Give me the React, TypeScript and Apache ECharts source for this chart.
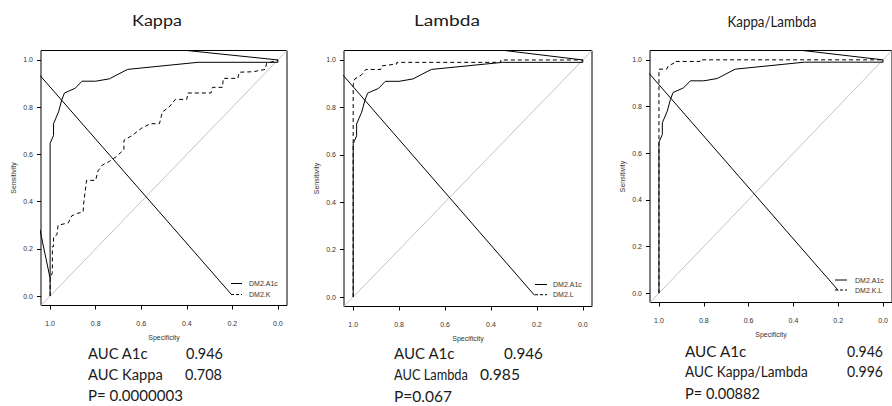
import React, { useEffect, useRef } from 'react';
import * as echarts from 'echarts';

// ---------- data ----------
const PANEL_TITLES = ['Kappa', 'Lambda', 'Kappa/Lambda'];
const LEGEND_A1C = 'DM2.A1c';
const LEGEND_MARKERS = ['DM2.K', 'DM2.L', 'DM2.K.L'];
const AXIS_TICKS = [0, 0.2, 0.4, 0.6, 0.8, 1.0];
const AXIS_MIN = -0.04;
const AXIS_MAX = 1.04;

// [specificity, sensitivity]
const A1C_ROC: number[][] = [
  [1, 0], [1, 0.647], [0.985, 0.68], [0.985, 0.73], [0.963, 0.78], [0.949, 0.83],
  [0.937, 0.86], [0.89, 0.88], [0.86, 0.91], [0.8, 0.91], [0.74, 0.92], [0.66, 0.96],
  [0.35, 0.99], [0, 0.99], [0, 1.0],
];
const KAPPA_ROC: number[][] = [
  [1, 0], [1, 0.07], [0.99, 0.1], [0.99, 0.21], [0.985, 0.21], [0.985, 0.25], [0.97, 0.26],
  [0.965, 0.3], [0.92, 0.31], [0.905, 0.34], [0.88, 0.35], [0.855, 0.357], [0.853, 0.39],
  [0.84, 0.49], [0.8, 0.49], [0.79, 0.53], [0.77, 0.555], [0.74, 0.57], [0.71, 0.59],
  [0.676, 0.62], [0.676, 0.66], [0.64, 0.68], [0.6, 0.71], [0.56, 0.73], [0.52, 0.73],
  [0.507, 0.78], [0.478, 0.8], [0.45, 0.833], [0.4, 0.833], [0.395, 0.86], [0.294, 0.86],
  [0.287, 0.884], [0.243, 0.884], [0.24, 0.922], [0.176, 0.922], [0.17, 0.948], [0.11, 0.95],
  [0.055, 0.96], [0.05, 0.985], [0, 1.0],
];
const LAMBDA_ROC: number[][] = [
  [1, 0], [1, 0.895], [0.993, 0.92], [0.964, 0.937], [0.945, 0.96], [0.88, 0.96],
  [0.876, 0.975], [0.81, 0.983], [0.81, 0.99], [0.357, 0.99], [0.357, 1.0], [0, 1.0],
];
const KL_ROC: number[][] = [
  [1, 0], [1, 0.96], [0.966, 0.96], [0.958, 0.974], [0.933, 0.986], [0.933, 0.993],
  [0.817, 0.993], [0.817, 1.0], [0, 1.0],
];
const MARKER_ROCS = [KAPPA_ROC, LAMBDA_ROC, KL_ROC];

// stray solid strokes present in the original figure
const STRAY_DIAGONAL: number[][][] = [
  [[1.045, 0.935], [0.205, 0.008]],
  [[1.045, 0.937], [0.21, 0.007]],
  [[1.045, 0.943], [0.2, 0.012]],
];
const STRAY_TOP: number[][][] = [
  [[0.45, 1.045], [0, 1.0]],
  [[0.4, 1.047], [0, 1.0]],
  [[0.43, 1.048], [0, 1.0]],
];
const STRAY_LEFT: number[][][] = [
  [[1.045, 0.283], [1.0, 0.075]],
  [],
  [],
];
const CHANCE_LINE: number[][] = [[1.1, -0.1], [-0.1, 1.1]];

const AUC_LABELS = [
  ['AUC A1c', 'AUC Kappa', 'P= 0.0000003'],
  ['AUC A1c', 'AUC Lambda', 'P=0.067'],
  ['AUC A1c', 'AUC Kappa/Lambda', 'P= 0.00882'],
];
const AUC_VALUES = [
  ['0.946', '0.708'],
  ['0.946', '0.985'],
  ['0.946', '0.996'],
];

// ---------- layout ----------
const GRIDS = [
  { left: 41, top: 50.5, width: 246, height: 255 },
  { left: 344, top: 50.5, width: 248, height: 256 },
  { left: 650, top: 50.5, width: 242, height: 252 },
];
// title: center x, center y, target width
const TITLE_POS = [
  { x: 157, y: 20, w: 50 },
  { x: 447, y: 20, w: 66 },
  { x: 772, y: 20, w: 89 },
];
const LEGEND_POS = [
  { x1: 231, x2: 242, y1: 283.5, y2: 294.5, tx: 249 },
  { x1: 535, x2: 547, y1: 284.5, y2: 294.7, tx: 553 },
  { x1: 835, x2: 847, y1: 280, y2: 290, tx: 855 },
];
// label column x, label target widths, value x, value target widths, row centers
const AUC_POS = [
  { x: 88, lw: [60, 75, 95], vx: [186, 185], vw: [37, 37], y: [353, 374, 395] },
  { x: 394, lw: [61, 74, 58], vx: [504, 480], vw: [39, 40], y: [353.5, 374.5, 396] },
  { x: 685, lw: [62, 123, 75], vx: [847, 847], vw: [36, 36], y: [351, 371.5, 392.5] },
];

const AXIS_FONT = '"Liberation Sans", Arial, sans-serif';
const TEXT_FONT = 'Lato, "Open Sans", sans-serif';
const TITLE_FONT = `16px ${TEXT_FONT}`;
const AUC_FONT = `15px ${TEXT_FONT}`;

let measureCtx: CanvasRenderingContext2D | null = null;
function textWidth(text: string, font: string): number {
  if (!measureCtx) measureCtx = document.createElement('canvas').getContext('2d');
  if (!measureCtx) return 1;
  measureCtx.font = font;
  return measureCtx.measureText(text).width || 1;
}

export default function App() {
  const ref = useRef<HTMLDivElement>(null);

  useEffect(() => {
    if (!ref.current) return;
    const chart = echarts.init(ref.current, undefined, { renderer: 'svg' });

    const grid = GRIDS.map((g) => ({
      ...g,
      show: true,
      borderColor: '#000',
      borderWidth: 1,
      backgroundColor: 'transparent',
      containLabel: false,
    }));

    const labelStyle = {
      show: true,
      customValues: AXIS_TICKS,
      fontFamily: AXIS_FONT,
      fontSize: 7,
      color: '#333',
      formatter: (v: number) => v.toFixed(1),
    };
    const tickStyle = {
      show: true,
      inside: false,
      length: 4,
      customValues: AXIS_TICKS,
      lineStyle: { color: '#000', width: 1 },
    };

    const xAxis = GRIDS.map((_, i) => ({
      type: 'value',
      min: AXIS_MIN,
      max: AXIS_MAX,
      gridIndex: i,
      inverse: true,
      position: 'bottom',
      splitLine: { show: false },
      axisLine: { show: false, onZero: false },
      name: 'Specificity',
      nameLocation: 'middle',
      nameGap: 28,
      nameTextStyle: { fontFamily: AXIS_FONT, fontSize: 7, color: '#333' },
      axisTick: tickStyle,
      axisLabel: { ...labelStyle, margin: 14 },
    }));

    const yAxis = GRIDS.map((_, i) => ({
      type: 'value',
      min: AXIS_MIN,
      max: AXIS_MAX,
      gridIndex: i,
      position: 'left',
      splitLine: { show: false },
      axisLine: { show: false, onZero: false },
      name: 'Sensitivity',
      nameLocation: 'middle',
      nameGap: 24,
      nameTextStyle: { fontFamily: AXIS_FONT, fontSize: 7, color: '#333' },
      axisTick: tickStyle,
      axisLabel: { ...labelStyle, margin: 8 },
    }));

    const line = (i: number, data: number[][], opts: any = {}) => ({
      type: 'line',
      xAxisIndex: i,
      yAxisIndex: i,
      data,
      showSymbol: false,
      symbol: 'none',
      silent: true,
      clip: true,
      lineStyle: { color: '#000', width: 1, ...opts },
      z: opts.z ?? 3,
    });

    const series: any[] = [];
    for (let i = 0; i < 3; i++) {
      series.push(line(i, CHANCE_LINE, { color: '#c4c4c4', width: 1, z: 1 }));
      series.push(line(i, A1C_ROC));
      series.push(line(i, MARKER_ROCS[i], { type: [4, 3] }));
      series.push(line(i, STRAY_DIAGONAL[i]));
      series.push(line(i, STRAY_TOP[i]));
      if (STRAY_LEFT[i].length) series.push(line(i, STRAY_LEFT[i]));
    }

    const fitText = (text: string, x: number, y: number, w: number, font: string, align: string) => ({
      type: 'text',
      x,
      y,
      scaleX: w / textWidth(text, font),
      style: {
        text,
        font,
        fill: '#1a1a1a',
        textAlign: align,
        textVerticalAlign: 'middle',
      },
    });

    const graphic: any[] = [];
    for (let i = 0; i < 3; i++) {
      const tp = TITLE_POS[i];
      graphic.push(fitText(PANEL_TITLES[i], tp.x, tp.y, tp.w, TITLE_FONT, 'center'));

      const lg = LEGEND_POS[i];
      graphic.push({
        type: 'line',
        shape: { x1: lg.x1, y1: lg.y1, x2: lg.x2, y2: lg.y1 },
        style: { stroke: '#000', lineWidth: 1 },
      });
      graphic.push({
        type: 'line',
        shape: { x1: lg.x1, y1: lg.y2, x2: lg.x2, y2: lg.y2 },
        style: { stroke: '#000', lineWidth: 1, lineDash: [3, 2] },
      });
      graphic.push({
        type: 'text',
        x: lg.tx,
        y: lg.y1,
        style: { text: LEGEND_A1C, font: `7px ${AXIS_FONT}`, fill: '#333', textAlign: 'left', textVerticalAlign: 'middle' },
      });
      graphic.push({
        type: 'text',
        x: lg.tx,
        y: lg.y2,
        style: { text: LEGEND_MARKERS[i], font: `7px ${AXIS_FONT}`, fill: '#333', textAlign: 'left', textVerticalAlign: 'middle' },
      });

      const ap = AUC_POS[i];
      AUC_LABELS[i].forEach((t, r) => {
        graphic.push(fitText(t, ap.x, ap.y[r], ap.lw[r], AUC_FONT, 'left'));
      });
      AUC_VALUES[i].forEach((t, r) => {
        graphic.push(fitText(t, ap.vx[r], ap.y[r], ap.vw[r], AUC_FONT, 'left'));
      });
    }

    chart.setOption({
      animation: false,
      backgroundColor: '#fff',
      grid,
      xAxis,
      yAxis,
      series,
      graphic,
    });

    return () => chart.dispose();
  }, []);

  return (
    <div
      ref={ref}
      style={{ position: 'absolute', left: 0, top: 0, width: 892, height: 406, background: '#fff' }}
    />
  );
}
